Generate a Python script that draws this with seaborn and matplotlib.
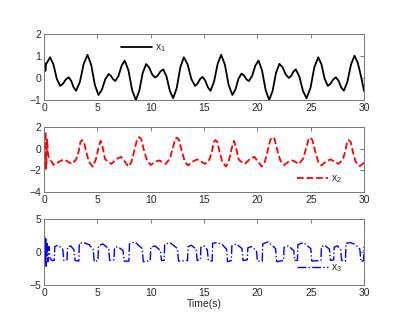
import numpy as np
import pandas as pd
import matplotlib
matplotlib.use('Agg')
import matplotlib.pyplot as plt
import seaborn as sns

# Datos (tiempo en s)
t1 = [0, 0.06, 0.12, 0.18, 0.3, 0.56,
      0.87, 1.19, 1.5, 1.77, 2.03, 2.3, 2.53, 2.77, 3.0,
      3.36, 3.71, 4.07, 4.41, 4.76, 5.1, 5.42, 5.73, 6.05,
      6.26, 6.47, 6.68, 6.97, 7.27, 7.56, 7.91, 8.25, 8.6,
      8.92, 9.24, 9.56, 9.84, 10.12, 10.4, 10.66, 10.91, 11.17,
      11.48, 11.79, 12.1, 12.43, 12.77, 13.1, 13.45, 13.8, 14.15,
      14.38, 14.62, 14.85, 15.1, 15.35, 15.6, 15.93, 16.27, 16.6,
      16.95, 17.3, 17.65, 17.93, 18.22, 18.5, 18.73, 18.97, 19.2,
      19.5, 19.8, 20.1, 20.43, 20.77, 21.1, 21.42, 21.74, 22.06,
      22.36, 22.65, 22.95, 23.17, 23.38, 23.6, 23.93, 24.27, 24.6,
      24.97, 25.33, 25.7, 26.0, 26.3, 26.6, 26.85, 27.1, 27.35,
      27.6, 27.85, 28.1, 28.43, 28.77, 29.1, 29.4, 29.7, 30.0]
x1 = [0.4, 0.68, 0.32, 0.62, 0.72, 0.94,
      0.62, -0.04, -0.36, -0.26, -0.07, 0.03, -0.12, -0.43, -0.58,
      -0.17, 0.64, 1.05, 0.60, -0.32, -0.77, -0.53, -0.06, 0.18,
      0.10, -0.06, -0.14, 0.09, 0.56, 0.79, 0.34, -0.55, -1.0,
      -0.59, 0.22, 0.63, 0.48, 0.17, 0.02, 0.11, 0.30, 0.39,
      0.06, -0.59, -0.92, -0.46, 0.48, 0.94, 0.62, -0.04, -0.36,
      -0.26, -0.05, 0.05, -0.11, -0.42, -0.58, -0.17, 0.64, 1.05,
      0.60, -0.32, -0.77, -0.53, -0.04, 0.20, 0.12, -0.06, -0.14,
      0.09, 0.56, 0.79, 0.34, -0.55, -1.0, -0.59, 0.23, 0.64,
      0.48, 0.16, 0.0, 0.10, 0.29, 0.39, 0.06, -0.59, -0.92,
      -0.46, 0.48, 0.94, 0.62, -0.04, -0.36, -0.26, -0.07, 0.03,
      -0.12, -0.43, -0.58, -0.18, 0.61, 1.01, 0.70, 0.10, -0.60]

t2 = [0, 0.05, 0.12, 0.2, 0.28, 0.38, 0.5, 0.9,
      1.4, 1.85, 2.6, 3.0, 3.25, 3.4, 3.55, 3.75, 3.95, 4.2, 4.55, 4.85,
      5.1, 5.3, 5.5, 5.7, 5.9, 6.3, 6.8, 7.2, 7.5, 7.9, 8.2, 8.45, 8.7,
      8.9, 9.1, 9.35, 9.65, 10.0, 10.4, 10.8, 11.4, 11.8, 12.05, 12.3,
      12.45, 12.65, 12.9, 13.2, 13.5,
      13.9, 14.35, 15.1, 15.5, 15.75, 15.9, 16.05, 16.25, 16.45, 16.7,
      17.05, 17.35, 17.6, 17.8, 18.0, 18.2, 18.4, 18.8, 19.3, 19.7, 20.0,
      20.4, 20.7, 20.95, 21.2, 21.4, 21.6, 21.85, 22.15, 22.5, 22.9, 23.3,
      23.9, 24.3, 24.55, 24.8, 24.95, 25.15, 25.4, 25.7, 26.0,
      26.4, 26.85, 27.6, 28.0, 28.25, 28.4, 28.55, 28.75, 28.95, 29.2,
      29.6, 30.0]
x2 = [-0.5, -2.0, 1.6, -1.8, 0.9, -0.6, -0.9, -1.5,
      -1.2, -0.98, -1.4, -1.0, -0.2, 0.6, 0.8, 0.6, -0.3, -1.2, -1.65, -1.0,
      0.1, 0.72, 0.1, -0.9, -1.15, -1.4, -0.95, -0.75, -1.1, -1.65, -1.2, -0.2, 0.8,
      1.07, 0.9, -0.1, -1.1, -1.5, -1.2, -1.08, -1.4, -0.9, 0.0, 0.9,
      1.02, 0.8, -0.2, -1.2, -1.55,
      -1.2, -0.98, -1.4, -1.0, -0.2, 0.6, 0.8, 0.6, -0.3, -1.2,
      -1.65, -1.0, 0.1, 0.72, 0.1, -0.9, -1.15, -1.4, -0.95, -0.75, -1.1,
      -1.65, -1.2, -0.2, 0.8, 1.07, 0.9, -0.1, -1.1, -1.5, -1.2, -1.08,
      -1.4, -0.9, 0.0, 0.9, 1.02, 0.8, -0.2, -1.2, -1.55,
      -1.2, -0.98, -1.4, -1.0, -0.2, 0.6, 0.8, 0.6, -0.3, -1.2,
      -1.6, -1.3]

t3 = [0, 0.05, 0.1, 0.15, 0.2, 0.27, 0.35, 0.45, 0.55, 0.7,
      0.95, 1.0, 1.3, 1.75, 1.85, 2.15, 2.2, 2.5, 2.8, 2.9, 3.25,
      3.3, 3.7, 4.2, 4.6, 4.7, 5.05, 5.1, 5.5, 6.05, 6.15, 6.55,
      6.6, 6.9, 7.4, 7.5, 7.95, 8.0, 8.5, 9.2, 9.3, 9.95,
      10.0, 10.4, 10.9, 11.0, 11.25, 11.3, 11.8, 12.5, 12.6, 13.45,
      13.5, 13.8, 14.25, 14.35, 14.65, 14.7, 15.0, 15.3, 15.4, 15.75,
      15.8, 16.2, 16.7, 17.1, 17.2, 17.55, 17.6, 18.0, 18.55, 18.65, 19.05,
      19.1, 19.4, 19.9, 20.0, 20.45, 20.5, 21.0, 21.7, 21.8, 22.45,
      22.5, 22.9, 23.4, 23.5, 23.75, 23.8, 24.3, 25.0, 25.1, 25.95,
      26.0, 26.3, 26.75, 26.85, 27.15, 27.2, 27.5, 27.8, 27.9, 28.25,
      28.3, 28.7, 29.2, 29.6, 29.7, 29.95, 30.0]
x3 = [0.5, 2.3, -1.8, 2.0, -2.2, 1.5, -1.5, 0.8, -0.9, -1.3,
      -1.3, 0.8, 1.0, 0.4, -1.3, -1.2, 0.7, 0.9, 0.3, -1.3, -1.4,
      1.3, 1.4, 1.1, 0.4, -1.5, -1.3, 0.9, 1.2, 0.5, -1.3, -1.2,
      0.6, 0.8, 0.2, -1.4, -1.4, 1.2, 1.5, 0.5, -1.5, -1.3,
      0.7, 0.9, 0.2, -1.3, -1.3, 1.1, 1.4, 0.5, -1.4, -1.3,
      0.8, 1.0, 0.4, -1.3, -1.2, 0.7, 0.9, 0.3, -1.3, -1.4,
      1.3, 1.4, 1.1, 0.4, -1.5, -1.3, 0.9, 1.2, 0.5, -1.3, -1.2,
      0.6, 0.8, 0.2, -1.4, -1.4, 1.2, 1.5, 0.5, -1.5, -1.3,
      0.7, 0.9, 0.2, -1.3, -1.3, 1.1, 1.4, 0.5, -1.4, -1.3,
      0.8, 1.0, 0.4, -1.3, -1.2, 0.7, 0.9, 0.3, -1.3, -1.4,
      1.3, 1.4, 1.1, 0.4, -1.5, -1.3, 0.8]

xticks = [0, 5, 10, 15, 20, 25, 30]

sns.set_style('white')
plt.rcParams['font.family'] = ['Liberation Sans', 'DejaVu Sans']
plt.rcParams['mathtext.default'] = 'regular'
plt.rcParams['font.size'] = 7.5

fig = plt.figure(figsize=(4.01, 3.29), dpi=100)
pos = [[0.11, 0.696, 0.798, 0.201],
       [0.11, 0.416, 0.798, 0.198],
       [0.11, 0.134, 0.798, 0.201]]

series = [
    (t1, x1, 'x$_1$', 'black', '-', 1.3, (-1, 2), [-1, 0, 1, 2], (0.31, 0.78)),
    (t2, x2, 'x$_2$', 'red', '--', 1.3, (-4, 2), [-4, -2, 0, 2], (0.86, 0.20)),
    (t3, x3, 'x$_3$', 'blue', '-.', 1.0, (-5, 5), [-5, 0, 5], (0.86, 0.25)),
]

for p, (t, x, lab, col, ls, lw, ylim, yt, anchor) in zip(pos, series):
    ax = fig.add_axes(p)
    df = pd.DataFrame({'t': t, 'x': x})
    sns.lineplot(data=df, x='t', y='x', ax=ax, color=col, linestyle=ls,
                 linewidth=lw, sort=False, estimator=None, label=lab)
    ax.set_xlim(0, 30)
    ax.set_ylim(*ylim)
    ax.set_xticks(xticks)
    ax.set_yticks(yt)
    ax.set_xlabel('')
    ax.set_ylabel('')
    ax.tick_params(direction='in', top=True, right=True, length=3,
                   width=0.6, color='#666666', labelsize=7.5, pad=2)
    for s in ax.spines.values():
        s.set_color('#777777')
        s.set_linewidth(0.7)
    ax.legend(loc='center', bbox_to_anchor=anchor, frameon=False, fontsize=7.5,
              handlelength=3.0, handletextpad=0.3, borderpad=0.1)

ax.set_xlabel('Time(s)', fontsize=7.5, labelpad=1)

fig.savefig('out.png', dpi=100)
